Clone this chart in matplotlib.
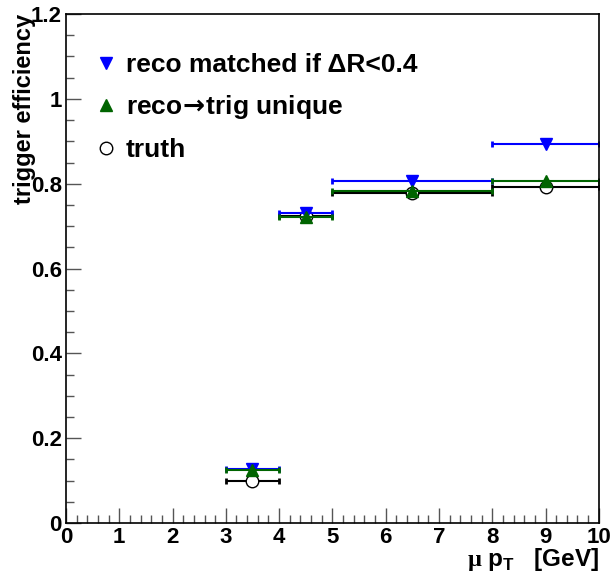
import matplotlib
matplotlib.use("Agg")
import matplotlib.pyplot as plt
from matplotlib.lines import Line2D
from matplotlib.ticker import MultipleLocator

plt.rcParams['font.family'] = ['Liberation Sans', 'DejaVu Sans']
plt.rcParams['font.weight'] = 'bold'
plt.rcParams['mathtext.fontset'] = 'custom'
plt.rcParams['mathtext.rm'] = 'Liberation Serif'
plt.rcParams['mathtext.bf'] = 'Liberation Sans:bold'
plt.rcParams['mathtext.sf'] = 'DejaVu Sans'

# bin edges (muon pT, GeV)
bin_lo = [3, 4, 5, 8]
bin_hi = [4, 5, 8, 10]

eff_reco_dr = [0.127, 0.731, 0.806, 0.893]
eff_reco_unique = [0.125, 0.722, 0.783, 0.807]
eff_truth = [0.098, 0.724, 0.778, 0.793]

labels = ["reco matched if \u0394R<0.4", r"reco$\!\mathsf{\rightarrow}\!$trig unique", "truth"]

blue = '#0000ff'
green = '#006400'

centers = [(a + b) / 2 for a, b in zip(bin_lo, bin_hi)]
halfw = [(b - a) / 2 for a, b in zip(bin_lo, bin_hi)]

fig = plt.figure(figsize=(6.11, 5.81), dpi=100)
ax = fig.add_axes([0.108, 0.0998, 0.872, 0.876])


def draw(vals, color, marker, mfc):
    ax.errorbar(centers, vals, xerr=halfw, fmt='none', ecolor=color,
                elinewidth=1.5, capsize=2.5, capthick=2)
    ax.plot(centers, vals, linestyle='none', marker=marker, markersize=9,
            markerfacecolor=mfc, markeredgecolor=color, markeredgewidth=1)


draw(eff_truth, 'black', 'o', 'white')
draw(eff_reco_dr, blue, 'v', blue)
draw(eff_reco_unique, green, '^', green)

ax.set_xlim(0, 10)
ax.set_ylim(0, 1.2)
ax.xaxis.set_major_locator(MultipleLocator(1))
ax.xaxis.set_minor_locator(MultipleLocator(0.2))
ax.yaxis.set_major_locator(MultipleLocator(0.2))
ax.yaxis.set_minor_locator(MultipleLocator(0.05))
ax.set_yticks([0, 0.2, 0.4, 0.6, 0.8, 1.0, 1.2])
ax.set_yticklabels(['0', '0.2', '0.4', '0.6', '0.8', '1', '1.2'])
ax.tick_params(which='both', direction='in', top=False, right=False,
               labelsize=16, pad=3)
ax.tick_params(which='major', length=11, width=1, color='#555555')
ax.tick_params(which='minor', length=5.5, width=1, color='#555555')
for sp in ax.spines.values():
    sp.set_linewidth(1.2)

ax.set_ylabel('trigger efficiency', fontsize=17, fontweight='bold')
ax.yaxis.set_label_coords(-0.077, 1.0)
ax.yaxis.label.set_horizontalalignment('right')
ax.yaxis.label.set_verticalalignment('center')

ax.set_xlabel(r'$\mathrm{\mu}$ $\mathbf{p}_{\mathbf{T}}$   [GeV]', fontsize=17.5,
              fontweight='bold')
ax.xaxis.set_label_coords(1.0, -0.085)
ax.xaxis.label.set_horizontalalignment('right')
ax.xaxis.label.set_verticalalignment('baseline')

handles = [
    Line2D([], [], linestyle='none', marker='v', markersize=9, color=blue),
    Line2D([], [], linestyle='none', marker='^', markersize=9, color=green),
    Line2D([], [], linestyle='none', marker='o', markersize=9,
           markerfacecolor='white', markeredgecolor='black'),
]
ax.legend(handles, labels, loc='upper left', bbox_to_anchor=(0.035, 0.944),
          frameon=False, fontsize=19, handlelength=0.85, handletextpad=0.3,
          labelspacing=0.62, borderaxespad=0)

fig.savefig('out.png', dpi=100)
